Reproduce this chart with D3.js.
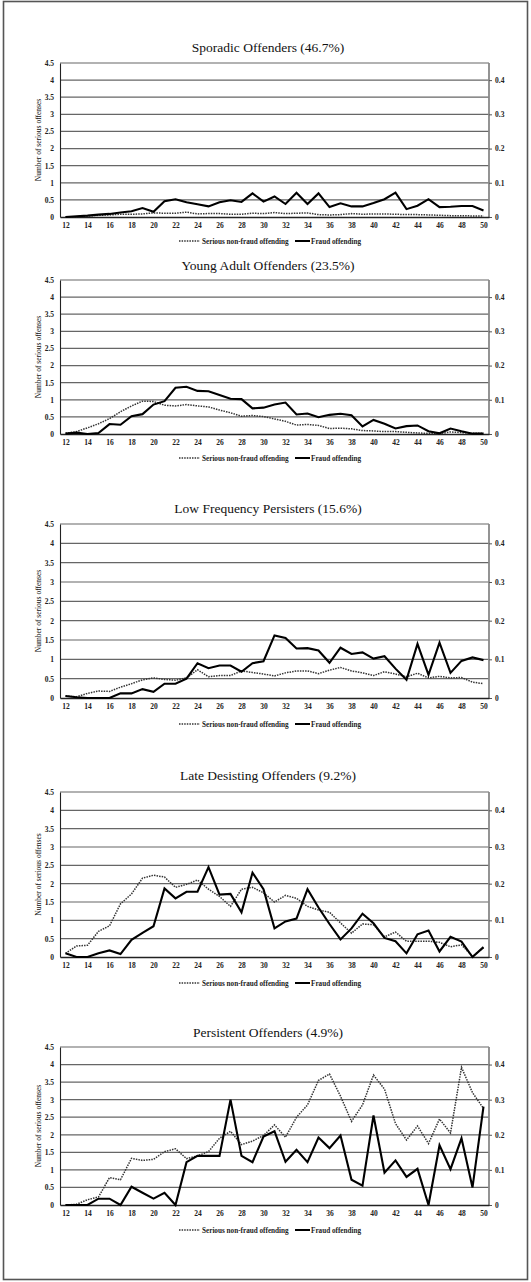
<!DOCTYPE html>
<html>
<head>
<meta charset="utf-8">
<script src="https://cdn.jsdelivr.net/npm/d3@7/dist/d3.min.js"></script>
<style>
  body { margin: 0; background: #fff; }
  text { font-family: "Liberation Serif", "Times New Roman", serif; }
</style>
</head>
<body>
<script>
// data
var ages = [12, 13, 14, 15, 16, 17, 18, 19, 20, 21, 22, 23, 24, 25, 26, 27, 28, 29, 30,
            31, 32, 33, 34, 35, 36, 37, 38, 39, 40, 41, 42, 43, 44, 45, 46, 47, 48, 49, 50];
var leftTicks = [0, 0.5, 1, 1.5, 2, 2.5, 3, 3.5, 4, 4.5];
var leftTickLabels = ["0", "0.5", "1", "1.5", "2", "2.5", "3", "3.5", "4", "4.5"];
var rightTicks = [0, 0.1, 0.2, 0.3, 0.4];
var rightTickLabels = ["0", "0.1", "0.2", "0.3", "0.4"];
var seriesNames = ["Serious non-fraud offending", "Fraud offending"];
var titles = ["Sporadic Offenders (46.7%)", "Young Adult Offenders (23.5%)",
              "Low Frequency Persisters (15.6%)", "Late Desisting Offenders (9.2%)",
              "Persistent Offenders (4.9%)"];

// serious non-fraud offending (left axis)
var nonFraud1 = [0, 0.01, 0.03, 0.05, 0.06, 0.08, 0.08, 0.09, 0.12, 0.11, 0.11, 0.14, 0.09, 0.1, 0.1, 0.08, 0.08, 0.11, 0.1,
                 0.13, 0.1, 0.11, 0.12, 0.07, 0.06, 0.07, 0.1, 0.08, 0.09, 0.09, 0.08, 0.07, 0.07, 0.06, 0.05, 0.04, 0.04, 0.03, 0.03];
var nonFraud2 = [0.02, 0.07, 0.18, 0.3, 0.45, 0.65, 0.82, 0.96, 0.95, 0.84, 0.82, 0.86, 0.82, 0.79, 0.7, 0.62, 0.52, 0.54, 0.51,
                 0.44, 0.37, 0.26, 0.28, 0.25, 0.16, 0.17, 0.15, 0.1, 0.09, 0.07, 0.07, 0.05, 0.03, 0.02, 0.01, 0.06, 0.04, 0.02, 0.02];
var nonFraud3 = [0.05, 0.03, 0.12, 0.18, 0.17, 0.28, 0.37, 0.47, 0.52, 0.48, 0.46, 0.52, 0.73, 0.55, 0.58, 0.58, 0.7, 0.66, 0.62,
                 0.57, 0.65, 0.7, 0.7, 0.63, 0.72, 0.79, 0.7, 0.65, 0.58, 0.68, 0.62, 0.55, 0.64, 0.52, 0.56, 0.52, 0.53, 0.41, 0.37];
var nonFraud4 = [0.1, 0.3, 0.32, 0.7, 0.85, 1.45, 1.72, 2.15, 2.23, 2.18, 1.9, 1.98, 2.1, 1.85, 1.65, 1.38, 1.85, 1.9, 1.75,
                 1.5, 1.68, 1.6, 1.38, 1.28, 1.22, 0.93, 0.65, 0.9, 0.88, 0.55, 0.68, 0.43, 0.43, 0.43, 0.4, 0.28, 0.33, 0.02, 0.25];
var nonFraud5 = [0, 0.02, 0.15, 0.23, 0.78, 0.72, 1.33, 1.27, 1.3, 1.52, 1.6, 1.32, 1.4, 1.52, 1.9, 2.1, 1.72, 1.82, 1.98,
                 2.28, 1.93, 2.5, 2.85, 3.55, 3.73, 3.1, 2.38, 2.85, 3.7, 3.3, 2.32, 1.85, 2.25, 1.75, 2.45, 2.05, 3.92, 3.2, 2.75];

// fraud offending (right axis)
var fraud1 = [0, 0.002, 0.004, 0.007, 0.009, 0.013, 0.017, 0.026, 0.015, 0.046, 0.052, 0.043, 0.037, 0.031, 0.043, 0.049, 0.044, 0.069, 0.045,
              0.06, 0.038, 0.071, 0.038, 0.069, 0.029, 0.04, 0.031, 0.031, 0.041, 0.052, 0.071, 0.023, 0.033, 0.052, 0.029, 0.03, 0.032, 0.032, 0.019];
var fraud2 = [0.001, 0.004, 0, 0.003, 0.029, 0.027, 0.052, 0.058, 0.086, 0.096, 0.135, 0.138, 0.126, 0.125, 0.114, 0.103, 0.102, 0.075, 0.077,
              0.086, 0.092, 0.057, 0.06, 0.049, 0.056, 0.059, 0.055, 0.022, 0.041, 0.03, 0.016, 0.023, 0.025, 0.008, 0.002, 0.016, 0.008, 0.001, 0.001];
var fraud3 = [0.005, 0.002, 0, 0, 0, 0.012, 0.012, 0.023, 0.016, 0.037, 0.037, 0.05, 0.09, 0.077, 0.084, 0.084, 0.068, 0.09, 0.095,
              0.162, 0.155, 0.128, 0.129, 0.123, 0.091, 0.13, 0.114, 0.118, 0.102, 0.108, 0.076, 0.047, 0.14, 0.06, 0.143, 0.065, 0.096, 0.105, 0.098];
var fraud4 = [0.01, 0, 0, 0.01, 0.018, 0.008, 0.047, 0.066, 0.084, 0.187, 0.16, 0.178, 0.178, 0.245, 0.17, 0.172, 0.122, 0.23, 0.185,
              0.078, 0.097, 0.105, 0.185, 0.135, 0.09, 0.048, 0.078, 0.118, 0.092, 0.052, 0.043, 0.01, 0.062, 0.072, 0.015, 0.055, 0.042, 0, 0.027];
var fraud5 = [0, 0, 0, 0.018, 0.018, 0, 0.052, 0.035, 0.018, 0.035, 0, 0.122, 0.14, 0.14, 0.14, 0.3, 0.14, 0.122, 0.195,
              0.21, 0.123, 0.157, 0.122, 0.192, 0.162, 0.198, 0.072, 0.055, 0.255, 0.092, 0.127, 0.08, 0.103, 0, 0.17, 0.102, 0.19, 0.05, 0.28];

var nonFraudAll = [nonFraud1, nonFraud2, nonFraud3, nonFraud4, nonFraud5];
var fraudAll = [fraud1, fraud2, fraud3, fraud4, fraud5];

// layout (plot top / bottom, title and legend rows)
var layout = [
  {top: 63,   bottom: 217,  titleY: 47,   legendY: 241},
  {top: 280,  bottom: 434,  titleY: 265,  legendY: 458},
  {top: 524,  bottom: 698,  titleY: 508,  legendY: 724},
  {top: 792,  bottom: 957,  titleY: 775,  legendY: 983},
  {top: 1047, bottom: 1205, titleY: 1032, legendY: 1230}
];
var plotLeft = 60, plotRight = 489;

var svg = d3.select("body").append("svg")
    .attr("width", 531)
    .attr("height", 1282);

// outer frame
svg.append("rect")
    .attr("x", 3.5).attr("y", 1.5)
    .attr("width", 524).attr("height", 1278)
    .attr("fill", "none")
    .attr("stroke", "#555")
    .attr("stroke-width", 1.6);

var x = d3.scalePoint().domain(ages).range([plotLeft, plotRight]).padding(0.5);

layout.forEach(function(L, i) {
  var yL = d3.scaleLinear().domain([0, 4.5]).range([L.bottom, L.top]);
  var yR = d3.scaleLinear().domain([0, 0.45]).range([L.bottom, L.top]);
  var g = svg.append("g");

  // title
  g.append("text")
      .attr("x", 268).attr("y", L.titleY + 5)
      .attr("text-anchor", "middle")
      .attr("font-size", 13.5)
      .attr("fill", "#111")
      .text(titles[i]);

  // gridlines
  g.selectAll(".grid").data(leftTicks.slice(1)).enter().append("line")
      .attr("x1", plotLeft).attr("x2", plotRight)
      .attr("y1", function(d) { return yL(d); })
      .attr("y2", function(d) { return yL(d); })
      .attr("stroke", "#666")
      .attr("stroke-width", 1.2);

  // right edge (secondary axis)
  g.append("line")
      .attr("x1", plotRight).attr("x2", plotRight)
      .attr("y1", L.top).attr("y2", L.bottom)
      .attr("stroke", "#888").attr("stroke-width", 1.8);

  // left axis
  var axL = g.append("g")
      .attr("transform", "translate(" + plotLeft + ",0)")
      .call(d3.axisLeft(yL).tickValues(leftTicks)
            .tickFormat(function(d, j) { return leftTickLabels[j]; })
            .tickSize(0).tickPadding(6));
  axL.select(".domain").attr("stroke", "#222").attr("stroke-width", 1.1);

  // right axis
  var axR = g.append("g")
      .attr("transform", "translate(" + plotRight + ",0)")
      .call(d3.axisRight(yR).tickValues(rightTicks)
            .tickFormat(function(d, j) { return rightTickLabels[j]; })
            .tickSize(3).tickPadding(3));
  axR.select(".domain").remove();
  axR.selectAll(".tick line").attr("stroke", "#555");

  // bottom axis
  var axB = g.append("g")
      .attr("transform", "translate(0," + L.bottom + ")")
      .call(d3.axisBottom(x).tickValues(ages.filter(function(a) { return a % 2 === 0; }))
            .tickSize(0).tickPadding(6));
  axB.select(".domain").attr("stroke", "#222").attr("stroke-width", 1.3);

  g.selectAll(".tick text")
      .attr("font-family", "Liberation Serif, serif")
      .attr("font-size", 7.5)
      .attr("font-weight", "bold")
      .attr("fill", "#222");

  // y axis label
  g.append("text")
      .attr("transform", "translate(41," + ((L.top + L.bottom) / 2) + ") rotate(-90)")
      .attr("text-anchor", "middle")
      .attr("font-size", 7.5)
      .attr("fill", "#111")
      .text("Number of serious offenses");

  // series lines
  var lineL = d3.line().x(function(d, j) { return x(ages[j]); }).y(function(d) { return yL(d); });
  var lineR = d3.line().x(function(d, j) { return x(ages[j]); }).y(function(d) { return yR(d); });

  g.append("path")
      .datum(nonFraudAll[i])
      .attr("d", lineL)
      .attr("fill", "none")
      .attr("stroke", "#333")
      .attr("stroke-width", 1.5)
      .attr("stroke-dasharray", "1.5,1.1");

  g.append("path")
      .datum(fraudAll[i])
      .attr("d", lineR)
      .attr("fill", "none")
      .attr("stroke", "#000")
      .attr("stroke-width", 2.1)
      .attr("stroke-linejoin", "miter");

  // legend
  var lg = g.append("g").attr("transform", "translate(0," + L.legendY + ")");
  lg.append("line").attr("x1", 179).attr("x2", 200).attr("y1", 0).attr("y2", 0)
      .attr("stroke", "#333").attr("stroke-width", 1.5).attr("stroke-dasharray", "1.5,1.1");
  lg.append("text").attr("x", 202).attr("y", 2.5).attr("font-size", 7.2)
      .attr("font-weight", "bold").attr("fill", "#222").text(seriesNames[0]);
  lg.append("line").attr("x1", 295).attr("x2", 310).attr("y1", 0).attr("y2", 0)
      .attr("stroke", "#000").attr("stroke-width", 2);
  lg.append("text").attr("x", 311).attr("y", 2.5).attr("font-size", 7.2)
      .attr("font-weight", "bold").attr("fill", "#222").text(seriesNames[1]);
});
</script>
</body>
</html>
